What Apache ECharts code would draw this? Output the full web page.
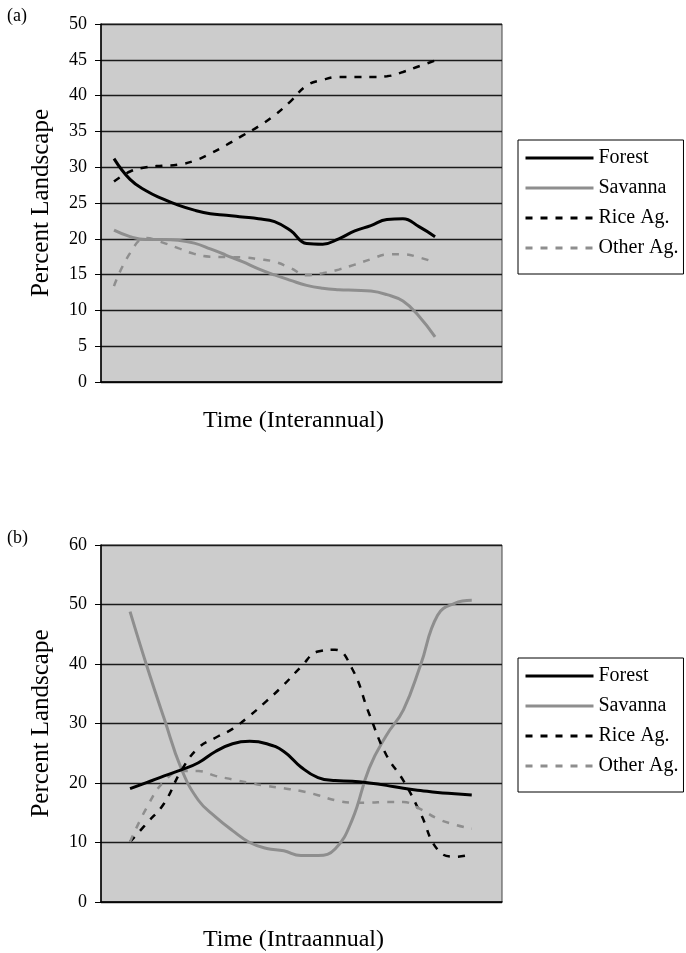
<!DOCTYPE html>
<html>
<head>
<meta charset="utf-8">
<script src="https://cdn.jsdelivr.net/npm/echarts@6/dist/echarts.min.js"></script>
<style>
  html, body { margin: 0; padding: 0; background: #fff; }
  #chart { width: 686px; height: 953px; }
</style>
</head>
<body>
<div id="chart"></div>
<script>
// Land-cover shares (percent of landscape) over successive time steps.
const seriesNames = ['Forest', 'Savanna', 'Rice Ag.', 'Other Ag.'];

// (a) interannual
const forestA  = [31.2, 28.3, 26.7, 25.6, 24.7, 24.0, 23.5, 23.3, 23.05, 22.8, 22.4, 21.15, 19.35, 19.25, 20.0, 21.1, 21.85, 22.7, 22.8, 21.7, 20.3];
const savannaA = [21.2, 20.3, 19.9, 19.9, 19.8, 19.4, 18.6, 17.7, 16.8, 15.8, 14.95, 14.2, 13.5, 13.1, 12.9, 12.8, 12.7, 12.2, 11.3, 9.2, 6.3];
const riceA    = [28.0, 29.4, 30.0, 30.2, 30.35, 30.9, 31.9, 33.1, 34.4, 35.7, 37.25, 39.2, 41.4, 42.2, 42.6, 42.6, 42.6, 42.7, 43.3, 44.1, 44.9];
const otherA   = [13.4, 18.0, 20.1, 19.5, 18.7, 17.9, 17.5, 17.45, 17.4, 17.15, 16.8, 15.9, 14.9, 15.2, 15.7, 16.4, 17.15, 17.8, 17.85, 17.4, 16.7];

// (b) intraannual
const forestB  = [19.05, 20.1, 21.2, 22.2, 23.4, 25.3, 26.6, 27.0, 26.6, 25.3, 22.7, 20.9, 20.4, 20.3, 20.0, 19.6, 19.1, 18.75, 18.4, 18.2, 18.0];
const savannaB = [48.8, 39.5, 30.8, 22.4, 17.1, 14.3, 12.0, 10.0, 9.0, 8.6, 7.8, 7.8, 8.9, 13.8, 22.5, 28.0, 32.3, 39.8, 48.2, 50.2, 50.7];
const riceB    = [10.1, 13.3, 16.6, 22.1, 25.9, 27.6, 29.1, 31.3, 33.8, 36.5, 39.5, 42.1, 42.4, 39.2, 31.6, 24.7, 20.4, 14.9, 8.8, 7.6, 8.0];
const otherB   = [10.1, 16.0, 20.3, 22.0, 22.0, 21.2, 20.6, 20.0, 19.5, 19.1, 18.65, 17.95, 17.1, 16.7, 16.7, 16.8, 16.8, 15.6, 14.0, 13.0, 12.3];

const yTicksA = [0, 5, 10, 15, 20, 25, 30, 35, 40, 45, 50];
const yTicksB = [0, 10, 20, 30, 40, 50, 60];

const FONT = 'Liberation Serif';
const styles = [
  { color: '#000000', width: 3, type: 'solid' },
  { color: '#8e8e8e', width: 3, type: 'solid' },
  { color: '#000000', width: 2.5, type: [7, 8] },
  { color: '#8e8e8e', width: 2.5, type: [7, 8] }
];

function toPoints(arr) { return arr.map((v, i) => [i, v]); }

function makeSeries(arrs, gridIdx) {
  return arrs.map((arr, k) => ({
    name: seriesNames[k],
    type: 'line',
    xAxisIndex: gridIdx,
    yAxisIndex: gridIdx,
    data: toPoints(arr),
    smooth: 0.45,
    symbol: 'none',
    lineStyle: { color: styles[k].color, width: styles[k].width, type: styles[k].type },
    itemStyle: { color: styles[k].color },
    z: 3 + (k === 0 ? 1 : 0)
  }));
}

function yAxis(gridIdx, ticks, name) {
  const step = ticks[1] - ticks[0];
  return {
    type: 'value',
    gridIndex: gridIdx,
    min: ticks[0],
    max: ticks[ticks.length - 1],
    interval: step,
    name: name,
    nameLocation: 'middle',
    nameGap: 47,
    nameTextStyle: { fontFamily: FONT, fontSize: 25, color: '#000' },
    axisLine: { show: true, onZero: false, lineStyle: { color: '#000', width: 1.5 } },
    axisTick: { show: true, length: 6, lineStyle: { color: '#000', width: 1 } },
    axisLabel: { fontFamily: FONT, fontSize: 18, color: '#000', margin: 14 },
    splitLine: { show: true, lineStyle: { color: '#1a1a1a', width: 1.3 } }
  };
}

function xAxis(gridIdx, min, max, name, gap) {
  return {
    type: 'value',
    gridIndex: gridIdx,
    min: min,
    max: max,
    name: name,
    nameLocation: 'middle',
    nameGap: gap,
    nameTextStyle: { fontFamily: FONT, fontSize: 24, color: '#000', padding: [0, 16, 0, 0] },
    axisLine: { show: true, onZero: false, lineStyle: { color: '#000', width: 1.5 } },
    axisTick: { show: false },
    axisLabel: { show: false },
    splitLine: { show: false }
  };
}

function legend(top) {
  return {
    orient: 'vertical',
    left: 518,
    top: top,
    data: seriesNames,
    itemWidth: 68,
    itemHeight: 14,
    itemGap: 10,
    padding: [8, 5, 16, 6],
    borderColor: '#000',
    borderWidth: 1,
    selectedMode: false,
    // line samples only, no marker dot
    itemStyle: { opacity: 0, borderWidth: 0 },
    lineStyle: { width: 3 },
    textStyle: { fontFamily: FONT, fontSize: 20, lineHeight: 20, color: '#000' }
  };
}

const chart = echarts.init(document.getElementById('chart'), null, { renderer: 'canvas' });
chart.setOption({
  animation: false,
  backgroundColor: '#ffffff',
  grid: [
    { left: 101, top: 24, width: 401, height: 358, show: true, backgroundColor: '#cccccc', borderColor: '#444', borderWidth: 1 },
    { left: 101, top: 545, width: 401, height: 359, show: true, backgroundColor: '#cccccc', borderColor: '#444', borderWidth: 1 }
  ],
  xAxis: [
    xAxis(0, -0.81, 24.17, 'Time (Interannual)', 27),
    xAxis(1, -1.70, 21.77, 'Time (Intraannual)', 26)
  ],
  yAxis: [
    yAxis(0, yTicksA, 'Percent Landscape'),
    yAxis(1, yTicksB, 'Percent Landscape')
  ],
  legend: [legend(140), legend(658)],
  graphic: [
    { type: 'text', left: 7, top: 7, style: { text: '(a)', font: '18px "Liberation Serif"', fill: '#000' } },
    { type: 'text', left: 7, top: 529, style: { text: '(b)', font: '18px "Liberation Serif"', fill: '#000' } }
  ],
  series: [
    ...makeSeries([forestA, savannaA, riceA, otherA], 0),
    ...makeSeries([forestB, savannaB, riceB, otherB], 1)
  ]
});
</script>
</body>
</html>
